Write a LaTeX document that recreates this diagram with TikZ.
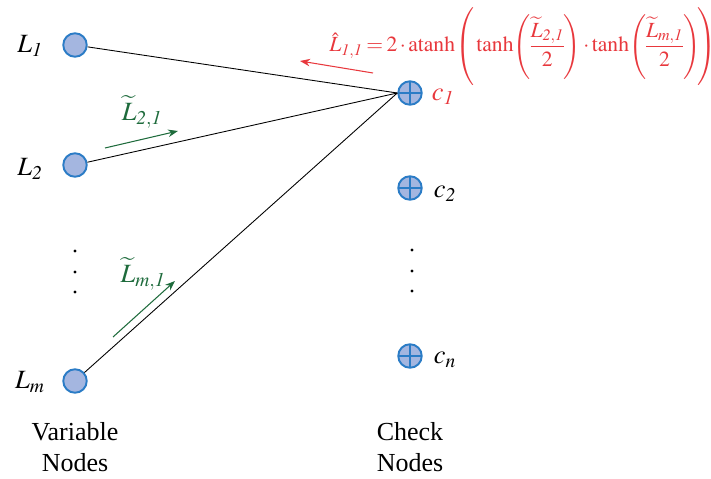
\documentclass[tikz,border=0pt]{standalone}
\usepackage{amsmath}
\usepackage{mathptmx}
\usepackage{fontspec}
\setmainfont{Liberation Serif}
\usepackage{tikz}
\usetikzlibrary{arrows.meta, positioning, calc}

\definecolor{nodefill}{HTML}{A4B6E0}
\definecolor{nodeline}{HTML}{2B7CC6}
\definecolor{msgred}{HTML}{E8383D}
\definecolor{msggreen}{HTML}{1E6B3C}

\begin{document}
\begin{tikzpicture}[
    x=0.02cm, y=-0.02cm,
    varnode/.style={circle, draw=nodeline, fill=nodefill, line width=1.1pt, minimum size=0.47cm, inner sep=0pt},
    checknode/.style={varnode, path picture={
        \draw[nodeline, line width=1.1pt] (path picture bounding box.north) -- (path picture bounding box.south)
            (path picture bounding box.west) -- (path picture bounding box.east);}},
    lbl/.style={font=\fontsize{15}{17}\selectfont, inner sep=1pt},
    caption/.style={font=\fontsize{14.8}{17.5}\selectfont, align=center},
    dotmark/.style={circle, fill=black, inner sep=0pt, minimum size=0.065cm},
    greenarrow/.style={-{Stealth[length=2mm, width=1.5mm]}, draw=msggreen, line width=0.6pt},
    redarrow/.style={-{Stealth[length=2mm, width=1.5mm]}, draw=msgred, line width=0.6pt},
    edge/.style={draw=black, line width=0.5pt}
]
\useasboundingbox (0,0) rectangle (711,479);

% Variable nodes
\node[varnode] (v1) at (75,45) {};
\node[varnode] (v2) at (75,165) {};
\node[varnode] (vm) at (75,381) {};
\node[lbl] (lv1) at (30,46) {$L_{\mathit{1}}$};
\node[lbl] (lv2) at (30,169) {$L_{\mathit{2}}$};
\node[lbl] (lvm) at (30,382) {$L_{m}$};

% Check nodes
\node[checknode] (c1) at (410,93) {};
\node[checknode] (c2) at (410,188) {};
\node[checknode] (cn) at (410,356) {};
\node[lbl, text=msgred] (lc1) at (443,97) {$c_{\mathit{1}}$};
\node[lbl] (lc2) at (445,194) {$c_{\mathit{2}}$};
\node[lbl] (lcn) at (445,360) {$c_{n}$};

% Ellipsis dots
\foreach \i/\y in {1/251, 2/272, 3/292} {
  \node[dotmark] (vd\i) at (75,\y) {};
  \node[dotmark] (cd\i) at (412,\y-1) {};
}

% Captions
\node[caption] (vcap) at (75,447) {Variable\\Nodes};
\node[caption] (ccap) at (410,447) {Check\\Nodes};

% Edges
\draw[edge] (v1) -- (c1.west);
\draw[edge] (v2) -- (c1.west);
\draw[edge] (vm) -- (c1.west);

% Messages
\coordinate (g1s) at (105,148);
\coordinate (g1e) at (178,131);
\draw[greenarrow] (g1s) -- (g1e);
\node[lbl, text=msggreen] (m21) at (142,112) {$\widetilde{L}_{\mathit{2,1}}$};

\coordinate (g2s) at (113,337);
\coordinate (g2e) at (175,281);
\draw[greenarrow] (g2s) -- (g2e);
\node[lbl, text=msggreen] (mm1) at (143,274) {$\widetilde{L}_{m,\mathit{1}}$};

\coordinate (rs) at (373,73);
\coordinate (re) at (300,61);
\draw[redarrow] (rs) -- (re);
\node[text=msgred, inner sep=0pt, anchor=base, font=\fontsize{12.3}{15}\selectfont] (update) at (523,52)
  {$\medmuskip=2mu \thickmuskip=3mu \nulldelimiterspace=0pt
   \hat{L}_{\mathit{1,1}} = 2\cdot\mathrm{atanh}\!\left(\rule[-18pt]{0pt}{41pt}\tanh\!\left(\dfrac{\widetilde{L}_{\mathit{2,1}}}{2}\right)\cdot\tanh\!\left(\dfrac{\widetilde{L}_{m,\mathit{1}}}{2}\right)\!\right)$};

\end{tikzpicture}
\end{document}
